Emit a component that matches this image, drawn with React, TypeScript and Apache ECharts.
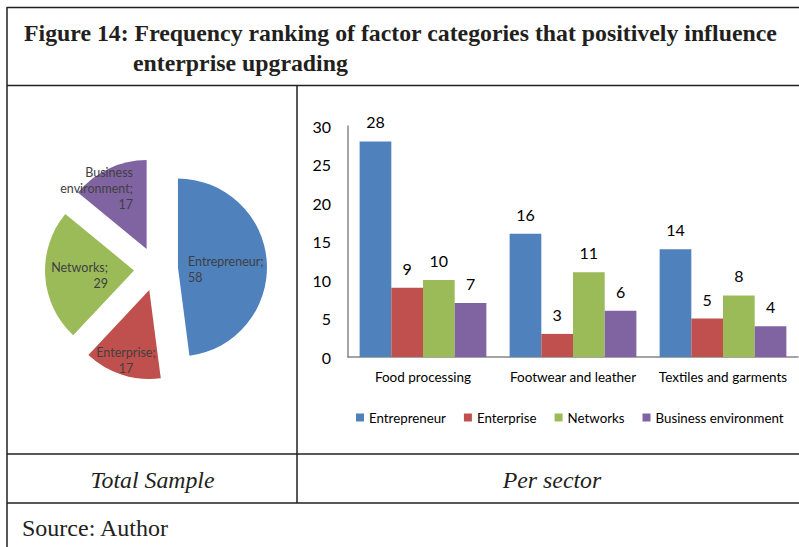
import React, { useEffect, useRef } from "react";
import * as echarts from "echarts";

// ---- Data ----
const pieNames = ["Entrepreneur", "Enterprise", "Networks", "Business environment"];
const pieValues = [58, 17, 29, 17];

const sectors = ["Food processing", "Footwear and leather", "Textiles and garments"];
const seriesNames = ["Entrepreneur", "Enterprise", "Networks", "Business environment"];
const entrepreneurVals = [28, 16, 14];
const enterpriseVals = [9, 3, 5];
const networksVals = [10, 11, 8];
const businessEnvVals = [7, 6, 4];

const yMin = 0;
const yMax = 30;
const yInterval = 5;

const titleLine1 = "Figure 14: Frequency ranking of factor categories that positively influence";
const titleLine2 = "enterprise upgrading";
const leftCaption = "Total Sample";
const rightCaption = "Per sector";
const sourceText = "Source: Author";

const colors = ["#4F81BD", "#C0504D", "#9BBB59", "#8064A2"];

const CHART_FONT = "Lato, 'Open Sans', sans-serif";
const SERIF = "'Liberation Serif', 'Times New Roman', serif";

export default function App() {
  const ref = useRef<HTMLDivElement>(null);

  useEffect(() => {
    if (!ref.current) return;
    const chart = echarts.init(ref.current, undefined, { renderer: "svg" });

    const lineStyle = { stroke: "#231f20", lineWidth: 1.5 };
    // label anchor positions (layout only)
    const pieLabelPos = [
      { x: 188, y: 269, align: "left" },
      { x: 126, y: 360, align: "center" },
      { x: 108, y: 275, align: "right" },
      { x: 133, y: 188, align: "right" },
    ];

    const barSeriesData = [entrepreneurVals, enterpriseVals, networksVals, businessEnvVals];

    const pieLabelTexts = pieNames.map((n, i) => ({
      type: "text",
      x: pieLabelPos[i].x,
      y: pieLabelPos[i].y,
      z: 100,
      style: {
        text: `${n.split(" ").join("\n")};\n${pieValues[i]}`,
        fontFamily: CHART_FONT,
        fontSize: 12.5,
        lineHeight: 16,
        fill: "#404040",
        align: pieLabelPos[i].align,
        verticalAlign: "middle",
      },
    }));

    const serifText = (text: string, x: number, y: number, font: string, align = "left") => ({
      type: "text",
      x,
      y,
      style: { text, font, fill: "#231f20", align, verticalAlign: "middle" },
    });

    const option: any = {
      animation: false,
      backgroundColor: "#ffffff",
      color: colors,
      graphic: [
        { type: "line", shape: { x1: 7, y1: 7.5, x2: 799, y2: 7.5 }, style: lineStyle },
        { type: "line", shape: { x1: 7, y1: 7, x2: 7, y2: 547 }, style: lineStyle },
        { type: "line", shape: { x1: 7, y1: 85.5, x2: 799, y2: 85.5 }, style: lineStyle },
        { type: "line", shape: { x1: 7, y1: 454, x2: 799, y2: 454 }, style: lineStyle },
        { type: "line", shape: { x1: 7, y1: 503, x2: 799, y2: 503 }, style: lineStyle },
        { type: "line", shape: { x1: 297, y1: 85, x2: 297, y2: 503 }, style: lineStyle },
        serifText(titleLine1, 24, 33, `bold 23.8px ${SERIF}`),
        serifText(titleLine2, 133, 63, `bold 23.8px ${SERIF}`),
        serifText(leftCaption, 152.5, 480, `italic 23.8px ${SERIF}`, "center"),
        serifText(rightCaption, 552, 480, `italic 23.8px ${SERIF}`, "center"),
        serifText(sourceText, 22, 528, `24px ${SERIF}`),
        ...pieLabelTexts,
      ],
      legend: {
        data: seriesNames,
        left: 351,
        top: 406,
        itemWidth: 8,
        itemHeight: 8,
        itemGap: 18,
        icon: "rect",
        textStyle: { fontFamily: CHART_FONT, fontSize: 13.3, color: "#000" },
        selectedMode: false,
      },
      grid: { left: 348, right: 1, top: 126, bottom: 190, containLabel: false },
      xAxis: {
        type: "category",
        data: sectors,
        axisLine: { show: true, lineStyle: { color: "#868686", width: 1.5 } },
        axisTick: { show: false },
        axisLabel: {
          fontFamily: CHART_FONT,
          fontSize: 13.5,
          color: "#000",
          margin: 13,
          interval: 0,
        },
      },
      yAxis: {
        type: "value",
        min: yMin,
        max: yMax,
        interval: yInterval,
        axisLine: { show: true, lineStyle: { color: "#868686", width: 1.5 } },
        axisTick: { show: false },
        splitLine: { show: false },
        axisLabel: { fontFamily: CHART_FONT, fontSize: 16, color: "#000", margin: 17 },
      },
      series: [
        {
          type: "pie",
          center: [156, 269],
          radius: 89,
          startAngle: 90,
          clockwise: true,
          selectedMode: "multiple",
          selectedOffset: 22,
          avoidLabelOverlap: false,
          emphasis: { disabled: true },
          itemStyle: { borderWidth: 0 },
          label: { show: false },
          labelLine: { show: false },
          data: pieNames.map((n, i) => ({
            name: n,
            value: pieValues[i],
            selected: true,
            itemStyle: { color: colors[i] },
          })),
        },
        ...seriesNames.map((name, i) => ({
          type: "bar",
          name,
          data: barSeriesData[i],
          barGap: "0%",
          barCategoryGap: "15.5%",
          itemStyle: { color: colors[i] },
          emphasis: { disabled: true },
          label: {
            show: true,
            position: "top",
            distance: 11.5,
            fontFamily: CHART_FONT,
            fontSize: 16,
            color: "#000",
          },
        })),
      ],
    };

    chart.setOption(option);
    return () => chart.dispose();
  }, []);

  return (
    <div
      ref={ref}
      style={{ position: "absolute", left: 0, top: 0, width: 799, height: 547 }}
    />
  );
}
